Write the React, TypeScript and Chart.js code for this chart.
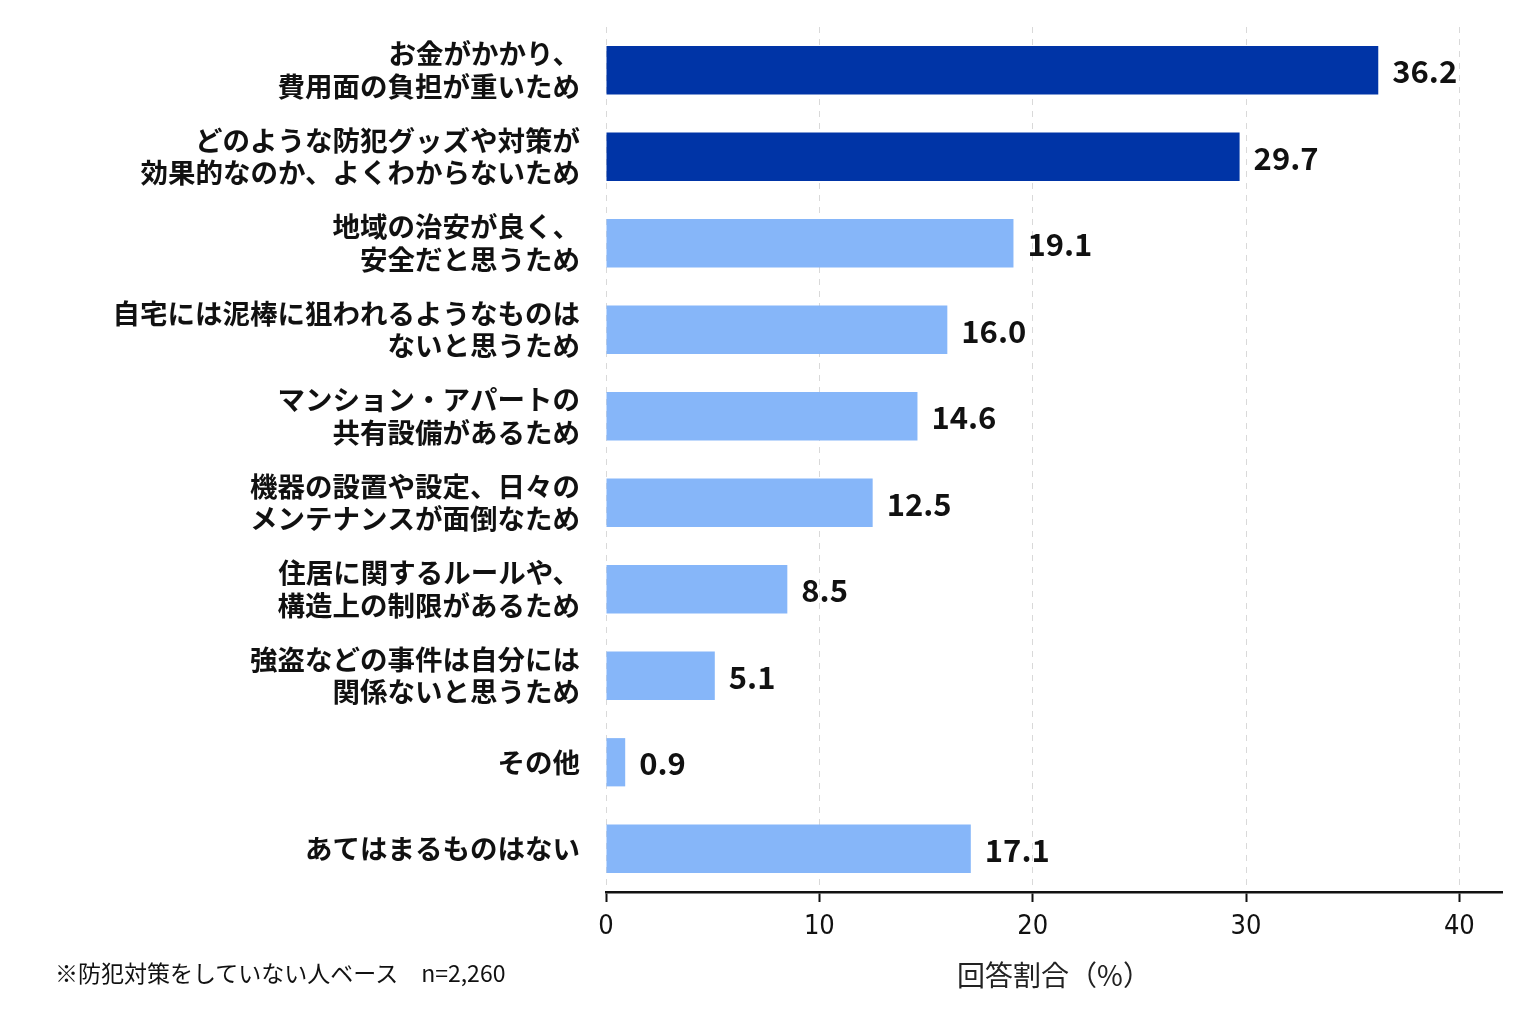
import { useEffect, useRef } from "react";
import { Chart, registerables } from "chart.js";

Chart.register(...registerables);

const categories: string[][] = [
  ["お金がかかり、", "費用面の負担が重いため"],
  ["どのような防犯グッズや対策が", "効果的なのか、よくわからないため"],
  ["地域の治安が良く、", "安全だと思うため"],
  ["自宅には泥棒に狙われるようなものは", "ないと思うため"],
  ["マンション・アパートの", "共有設備があるため"],
  ["機器の設置や設定、日々の", "メンテナンスが面倒なため"],
  ["住居に関するルールや、", "構造上の制限があるため"],
  ["強盗などの事件は自分には", "関係ないと思うため"],
  ["その他"],
  ["あてはまるものはない"],
];
const values = [36.2, 29.7, 19.1, 16.0, 14.6, 12.5, 8.5, 5.1, 0.9, 17.1];
const highlighted = [true, true, false, false, false, false, false, false, false, false];
const xTicks = [0, 10, 20, 30, 40];

const DARK = "#0034a6";
const LIGHT = "#86b6f9";
const JP = '"Noto Sans CJK JP", "Noto Sans", sans-serif';

const valueLabels = {
  id: "valueLabels",
  afterDatasetsDraw(chart: Chart) {
    const { ctx } = chart;
    const meta = chart.getDatasetMeta(0);
    ctx.save();
    ctx.font = `bold 31px ${JP}`;
    ctx.fillStyle = "#111";
    ctx.textAlign = "left";
    ctx.textBaseline = "middle";
    meta.data.forEach((bar: any, i: number) => {
      ctx.fillText(values[i].toFixed(1), bar.x + 14, bar.y + 1);
    });
    ctx.restore();
  },
};

export default function App() {
  const canvasRef = useRef<HTMLCanvasElement | null>(null);
  const chartRef = useRef<Chart | null>(null);

  useEffect(() => {
    document.body.style.margin = "0";
    if (!canvasRef.current) return;
    if (chartRef.current) chartRef.current.destroy();

    chartRef.current = new Chart(canvasRef.current, {
      type: "bar",
      data: {
        labels: categories,
        datasets: [
          {
            data: values,
            backgroundColor: highlighted.map((h) => (h ? DARK : LIGHT)),
            barPercentage: 0.9,
            categoryPercentage: 0.62,
          },
        ],
      },
      options: {
        indexAxis: "y",
        animation: false,
        responsive: false,
        layout: { padding: { top: 27, right: 34, bottom: 32, left: 0 } },
        plugins: {
          legend: { display: false },
          tooltip: { enabled: false },
        },
        scales: {
          y: {
            afterFit: (s: any) => {
              s.width = 606;
              s.paddingTop = 0;
              s.paddingBottom = 0;
            },
            grid: { display: false, drawTicks: false },
            border: { display: false },
            ticks: {
              padding: 26,
              color: "#111",
              font: { family: JP, size: 27.5, weight: "bold", lineHeight: 1.18 },
            },
          },
          x: {
            min: 0,
            max: 42,
            afterBuildTicks: (s: any) => {
              s.ticks = xTicks.map((v) => ({ value: v }));
            },
            grid: {
              color: "#d9d9d9",
              lineWidth: 1,
              tickColor: "#111",
              tickLength: 10,
              tickWidth: 2,
            },
            border: { display: true, color: "#111", width: 2.5, dash: [6, 6] },
            ticks: {
              padding: 9,
              color: "#111",
              font: { family: '"Liberation Sans Narrow", "DejaVu Sans Condensed", "Noto Sans", sans-serif', size: 27 },
            },
            title: {
              display: true,
              text: "回答割合（%）",
              color: "#222",
              padding: { top: 6, bottom: 0 },
              font: { family: JP, size: 28 },
            },
          },
        },
      },
      plugins: [valueLabels],
    });

    return () => {
      chartRef.current?.destroy();
      chartRef.current = null;
    };
  }, []);

  return (
    <div style={{ position: "relative", width: 1536, height: 1024, background: "#fff" }}>
      <canvas ref={canvasRef} width={1536} height={1024} style={{ width: 1536, height: 1024 }} />
      <div
        style={{
          position: "absolute",
          left: 55,
          top: 955,
          fontFamily: JP,
          fontSize: 23,
          color: "#111",
          whiteSpace: "pre",
        }}
      >
        {"※防犯対策をしていない人ベース　n=2,260"}
      </div>
    </div>
  );
}
